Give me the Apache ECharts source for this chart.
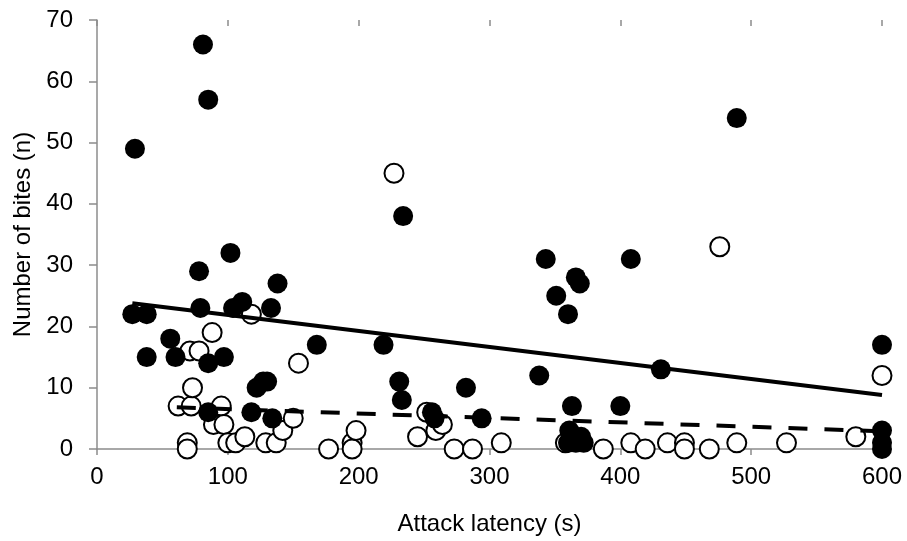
<!DOCTYPE html>
<html>
<head>
<meta charset="utf-8">
<script src="https://cdn.jsdelivr.net/npm/echarts@6/dist/echarts.min.js"></script>
<style>
  html, body { margin: 0; padding: 0; background: #fff; }
  #chart { width: 907px; height: 541px; }
</style>
</head>
<body>
<div id="chart"></div>
<script>
// filled circles: [latency (s), bites]
const filledPoints = [
  [27, 22], [38, 22], [29, 49], [38, 15], [56, 18], [60, 15], [78, 29], [79, 23],
  [81, 66], [85, 57], [85, 14], [97, 15], [85, 6], [102, 32], [104, 23], [111, 24],
  [133, 23], [138, 27], [122, 10], [127, 11], [130, 11], [118, 6], [134, 5],
  [168, 17], [219, 17], [231, 11], [233, 8], [234, 38], [256, 6], [258, 5],
  [282, 10], [294, 5], [338, 12], [343, 31], [351, 25], [360, 22], [366, 28],
  [369, 27], [363, 7], [361, 3], [364, 2], [370, 2], [360, 1], [366, 1], [372, 1],
  [400, 7], [408, 31], [431, 13], [489, 54], [600, 17], [600, 3], [600, 1], [600, 0]
]
// open circles
const openPoints = [
  [62, 7], [72, 7], [73, 10], [69, 1], [69, 0], [71, 16], [78, 16], [88, 19],
  [95, 7], [89, 4], [97, 4], [100, 1], [106, 1], [113, 2], [118, 22], [129, 1],
  [137, 1], [142, 3], [150, 5], [154, 14], [177, 0], [195, 1], [195, 0], [198, 3],
  [227, 45], [245, 2], [252, 6], [259, 3], [264, 4], [273, 0], [287, 0], [309, 1],
  [358, 1], [387, 0], [408, 1], [419, 0], [436, 1], [449, 1], [449, 0], [468, 0],
  [476, 33], [489, 1], [527, 1], [580, 2], [600, 12]
]
// trend lines (end points)
const solidTrend = [[27, 23.8], [600, 8.8]]
const dashedTrend = [[61, 6.8], [600, 2.9]]

const xTicks = { min: 0, max: 600, interval: 100 }
const yTicks = { min: 0, max: 70, interval: 10 }

const chart = echarts.init(document.getElementById('chart'))
const font = 'Liberation Sans, Arial, sans-serif'
const axisColor = '#8c8c8c'

chart.setOption({
  animation: false,
  backgroundColor: '#fff',
  grid: { left: 97, right: 25, top: 20, bottom: 92 },
  xAxis: [
    {
      type: 'value',
      ...xTicks,
      name: 'Attack latency (s)',
      nameLocation: 'middle',
      nameGap: 63,
      nameTextStyle: { color: '#000', fontSize: 24, fontFamily: font },
      axisLine: { lineStyle: { color: axisColor, width: 1.5 } },
      axisTick: { show: true, length: 6, lineStyle: { color: axisColor, width: 1.5 } },
      axisLabel: { color: '#000', fontSize: 24, fontFamily: font, margin: 16 },
      splitLine: { show: false },
    },
    {
      type: 'value',
      ...xTicks,
      axisLine: { show: false },
      axisTick: { show: true, inside: true, length: 6, lineStyle: { color: axisColor, width: 1.5 } },
      axisLabel: { show: false },
      splitLine: { show: false },
    },
  ],
  yAxis: {
    type: 'value',
    ...yTicks,
    name: 'Number of bites (n)',
    nameLocation: 'middle',
    nameGap: 60,
    nameTextStyle: { color: '#000', fontSize: 24, fontFamily: font },
    axisLine: { show: true, lineStyle: { color: axisColor, width: 1.5 } },
    axisTick: { show: true, length: 8, lineStyle: { color: axisColor, width: 1.5 } },
    axisLabel: { color: '#000', fontSize: 24, fontFamily: font, margin: 24 },
    splitLine: { show: false },
  },
  series: [
    {
      name: 'open',
      type: 'scatter',
      data: openPoints,
      symbol: 'circle',
      symbolSize: 19,
      itemStyle: { color: '#fff', borderColor: '#000', borderWidth: 2, opacity: 1 },
      z: 2,
      silent: true,
    },
    {
      name: 'open trend',
      type: 'line',
      data: dashedTrend,
      symbol: 'none',
      lineStyle: { color: '#000', width: 4, type: [19, 17] },
      z: 3,
      silent: true,
    },
    {
      name: 'filled',
      type: 'scatter',
      data: filledPoints,
      symbol: 'circle',
      symbolSize: 20,
      itemStyle: { color: '#000', opacity: 1 },
      z: 4,
      silent: true,
    },
    {
      name: 'filled trend',
      type: 'line',
      data: solidTrend,
      symbol: 'none',
      lineStyle: { color: '#000', width: 4 },
      z: 5,
      silent: true,
    },
  ],
})
</script>
</body>
</html>
